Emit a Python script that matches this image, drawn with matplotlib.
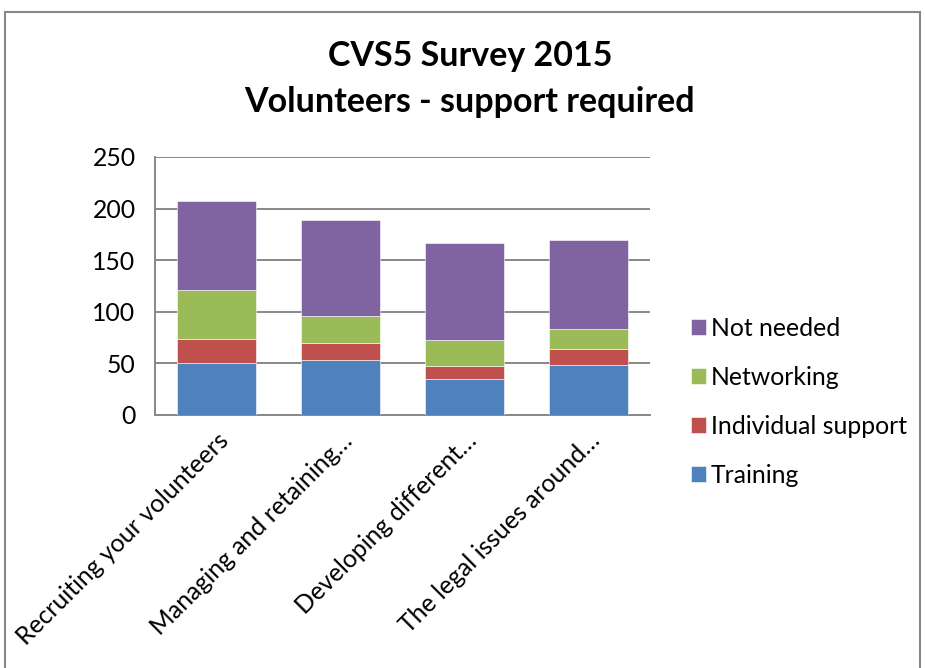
import matplotlib
matplotlib.use("Agg")
import matplotlib.pyplot as plt
import numpy as np
from matplotlib.patches import Rectangle

plt.rcParams['font.family'] = ['Lato', 'DejaVu Sans']

categories = ["Recruiting your volunteers", "Managing and retaining\u2026",
              "Developing different\u2026", "The legal issues around\u2026"]
training = [50, 53, 35, 48]
individual_support = [24, 17, 12, 16]
networking = [47, 26, 26, 19]
not_needed = [86, 93, 94, 87]

series = [("Training", training, "#4f81bd"),
          ("Individual support", individual_support, "#c0504d"),
          ("Networking", networking, "#9bbb59"),
          ("Not needed", not_needed, "#8064a2")]

fig = plt.figure(figsize=(9.25, 6.68), dpi=100)
ax = fig.add_axes([155 / 925, 1 - 415 / 668, 495 / 925, 258 / 668])

x = np.arange(len(categories))
bottom = np.zeros(len(categories))
handles = []
for name, vals, color in series:
    b = ax.bar(x, vals, 0.64, bottom=bottom, color=color, label=name,
               edgecolor="white", linewidth=0.4, zorder=3)
    handles.append(b)
    bottom += np.array(vals)

ax.set_xlim(-0.5, len(categories) - 0.5)
ax.set_ylim(0, 250)
ax.set_yticks(range(0, 251, 50))
ax.yaxis.grid(True, color="#888888", linewidth=1.4, zorder=0)
ax.set_axisbelow(True)
for s in ["top", "right"]:
    ax.spines[s].set_visible(False)
for s in ["left", "bottom"]:
    ax.spines[s].set_color("#888888")
    ax.spines[s].set_linewidth(1.4)
ax.tick_params(axis="both", length=0, labelsize=17.8)
ax.tick_params(axis="y", pad=14)
ax.set_xticks(x)
ax.set_xticklabels(categories, rotation=45, ha="right", rotation_mode="anchor")
ax.tick_params(axis="x", pad=10)

fig.text(0.508, 1 - 56 / 668, "CVS5 Survey 2015", ha="center", va="center",
         fontsize=24.5, fontweight="bold")
fig.text(0.508, 1 - 102 / 668, "Volunteers - support required", ha="center", va="center",
         fontsize=24.5, fontweight="bold")

leg = fig.legend(handles[::-1], [s[0] for s in series[::-1]],
                 loc="center left", bbox_to_anchor=(669 / 925, 1 - 402 / 668),
                 frameon=False, fontsize=17.8, handlelength=0.6, handleheight=0.6,
                 handletextpad=0.2, labelspacing=1.05)

# chart frame
fig.add_artist(Rectangle((5 / 925, -0.1), 915 / 925, 1.1 - 12 / 668,
                         transform=fig.transFigure, fill=False,
                         edgecolor="#888888", linewidth=1.5))

fig.savefig("out.png", dpi=100)
